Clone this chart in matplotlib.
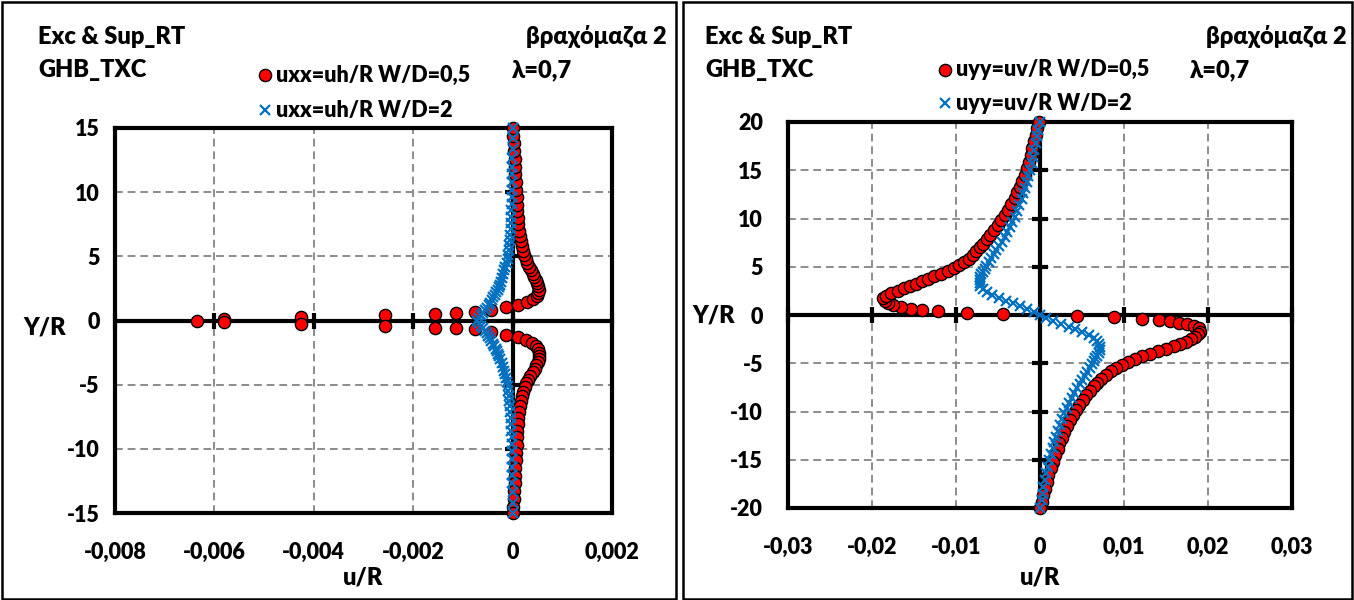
import matplotlib
matplotlib.use("Agg")
import matplotlib.pyplot as plt
from matplotlib.lines import Line2D
from matplotlib.patches import Rectangle
from matplotlib.ticker import FuncFormatter

# ---------------- data: horizontal displacement uxx (left chart) ----------------
# W/D = 0.5, upper half (Y/R > 0)
UXX_05_Y_UP = [0.00, 0.10, 0.27, 0.40, 0.50, 0.56, 0.64, 0.82, 1.02, 1.20, 1.42, 1.66,
               1.90, 2.15, 2.40, 2.65, 2.90, 3.15, 3.40, 3.65, 3.90, 4.20, 4.50, 4.80,
               5.10, 5.45, 5.80, 6.20, 6.60, 7.00, 7.50, 8.00, 8.50, 9.00, 9.60, 10.20,
               10.80, 11.40, 12.00, 12.60, 13.20, 13.80, 14.40, 15.00]
UXX_05_X_UP = [-0.00636, -0.00580, -0.00425, -0.00256, -0.00157, -0.00113, -0.00076,
               -0.00043, -0.00013, 0.00010, 0.00028, 0.00042, 0.00049, 0.00052, 0.00053,
               0.00052, 0.00050, 0.00047, 0.00044, 0.00041, 0.00038, 0.00033, 0.00029,
               0.00026, 0.00023, 0.00020, 0.00018, 0.00016, 0.00015, 0.00013, 0.00011,
               0.00010, 0.00009, 0.00009, 0.00008, 0.00007, 0.00006, 0.00005, 0.00005,
               0.00004, 0.00003, 0.00002, 0.00001, 0.00000]
# W/D = 0.5, lower half (Y/R < 0)
UXX_05_Y_DN = [-0.15, -0.30, -0.45, -0.55, -0.60, -0.68, -0.88, -1.10, -1.28, -1.50,
               -1.75, -2.00, -2.25, -2.50, -2.75, -3.00, -3.25, -3.50, -3.75, -4.00,
               -4.30, -4.60, -4.90, -5.20, -5.55, -5.90, -6.30, -6.70, -7.10, -7.60,
               -8.10, -8.60, -9.10, -9.70, -10.30, -10.90, -11.50, -12.10, -12.70,
               -13.30, -13.90, -14.50, -15.00]
UXX_05_X_DN = [-0.00580, -0.00425, -0.00256, -0.00157, -0.00113, -0.00076, -0.00043,
               -0.00013, 0.00010, 0.00027, 0.00040, 0.00047, 0.00051, 0.00053, 0.00054,
               0.00053, 0.00051, 0.00048, 0.00045, 0.00041, 0.00036, 0.00031, 0.00027,
               0.00024, 0.00021, 0.00018, 0.00016, 0.00015, 0.00013, 0.00011, 0.00010,
               0.00009, 0.00009, 0.00008, 0.00007, 0.00006, 0.00005, 0.00005, 0.00004,
               0.00003, 0.00002, 0.00001, 0.00000]

# W/D = 2, upper half
UXX_2_Y_UP = [0.0, 0.2, 0.4, 0.6, 0.8, 1.0, 1.2, 1.4, 1.6, 1.8, 2.0, 2.2, 2.4, 2.6, 2.8,
              3.0, 3.3, 3.6, 3.9, 4.2, 4.5, 4.8, 5.1, 5.5, 5.9, 6.3, 6.7, 7.1, 7.6, 8.1,
              8.6, 9.1, 9.6, 10.2, 10.8, 11.4, 12.0, 12.7, 13.4, 14.2, 15.0]
UXX_2_X_UP = [-0.00072, -0.00067, -0.00063, -0.00059, -0.00055, -0.00051, -0.00048,
              -0.00045, -0.00042, -0.00039, -0.00036, -0.00033, -0.00030, -0.00028,
              -0.00026, -0.00024, -0.00021, -0.00019, -0.00017, -0.00015, -0.00012,
              -0.00010, -0.00009, -0.00008, -0.00007, -0.00006, -0.00005, -0.00004,
              -0.00004, -0.00003, -0.00003, -0.00002, -0.00002, -0.00002, -0.00001,
              -0.00001, -0.00001, -0.00001, 0.00000, 0.00000, 0.00000]
# W/D = 2, lower half
UXX_2_Y_DN = [-0.2, -0.4, -0.6, -0.8, -1.0, -1.2, -1.4, -1.6, -1.8, -2.0, -2.2, -2.4,
              -2.6, -2.8, -3.0, -3.3, -3.6, -3.9, -4.2, -4.5, -4.8, -5.1, -5.5, -5.9,
              -6.3, -6.7, -7.1, -7.6, -8.1, -8.6, -9.1, -9.6, -10.2, -10.8, -11.4,
              -12.0, -12.7, -13.4, -14.2, -15.0]
UXX_2_X_DN = [-0.00068, -0.00064, -0.00060, -0.00056, -0.00052, -0.00049, -0.00046,
              -0.00043, -0.00040, -0.00037, -0.00034, -0.00031, -0.00029, -0.00027,
              -0.00025, -0.00022, -0.00020, -0.00018, -0.00016, -0.00013, -0.00011,
              -0.00010, -0.00009, -0.00008, -0.00007, -0.00006, -0.00005, -0.00004,
              -0.00003, -0.00003, -0.00002, -0.00002, -0.00002, -0.00001, -0.00001,
              -0.00001, -0.00001, 0.00000, 0.00000, 0.00000]

# ---------------- data: vertical displacement uyy (right chart) ----------------
# W/D = 0.5, upper half
UYY_05_Y_UP = [0.07, 0.24, 0.41, 0.55, 0.66, 0.80, 1.00, 1.21, 1.45, 1.73, 2.00, 2.25,
               2.50, 2.75, 3.00, 3.25, 3.50, 3.75, 4.00, 4.30, 4.60, 4.90, 5.20, 5.50,
               5.85, 6.20, 6.60, 7.00, 7.40, 7.85, 8.30, 8.80, 9.30, 9.80, 10.35, 10.90,
               11.50, 12.10, 12.70, 13.30, 13.90, 14.50, 15.20, 15.90, 16.60, 17.30,
               18.00, 18.70, 19.40, 20.00]
UYY_05_X_UP = [-0.0044, -0.0087, -0.0121, -0.0141, -0.0154, -0.0165, -0.0175, -0.0181,
               -0.0185, -0.0187, -0.0183, -0.0177, -0.0169, -0.0162, -0.0155, -0.0148,
               -0.0141, -0.0133, -0.0126, -0.0118, -0.0109, -0.0102, -0.0096, -0.0090,
               -0.0085, -0.0080, -0.0076, -0.0072, -0.0068, -0.0063, -0.0059, -0.0055,
               -0.0050, -0.0046, -0.0042, -0.0038, -0.0034, -0.0030, -0.0027, -0.0024,
               -0.0021, -0.0018, -0.0015, -0.0013, -0.0011, -0.0009, -0.0007, -0.0005,
               -0.0003, -0.0001]
# W/D = 0.5, lower half
UYY_05_Y_DN = [-0.10, -0.24, -0.41, -0.52, -0.66, -0.80, -0.93, -1.14, -1.38, -1.73,
               -2.00, -2.25, -2.50, -2.75, -3.00, -3.25, -3.50, -3.75, -4.00, -4.30,
               -4.60, -4.90, -5.20, -5.50, -5.85, -6.20, -6.60, -7.00, -7.40, -7.85,
               -8.30, -8.80, -9.30, -9.80, -10.35, -10.90, -11.50, -12.10, -12.70,
               -13.30, -13.90, -14.50, -15.20, -15.90, -16.60, -17.30, -18.00, -18.70,
               -19.40, -20.00]
UYY_05_X_DN = [0.0044, 0.0088, 0.0121, 0.0142, 0.0155, 0.0165, 0.0175, 0.0183, 0.0189,
               0.0190, 0.0188, 0.0185, 0.0180, 0.0174, 0.0167, 0.0159, 0.0150, 0.0141,
               0.0131, 0.0122, 0.0113, 0.0105, 0.0098, 0.0091, 0.0085, 0.0079, 0.0073,
               0.0068, 0.0064, 0.0059, 0.0055, 0.0051, 0.0047, 0.0043, 0.0039, 0.0036,
               0.0032, 0.0029, 0.0026, 0.0023, 0.0021, 0.0018, 0.0015, 0.0013, 0.0010,
               0.0008, 0.0006, 0.0004, 0.0002, 0.0000]

# W/D = 2, upper half
UYY_2_Y_UP = [0.0, 0.3, 0.6, 0.9, 1.2, 1.5, 1.8, 2.1, 2.4, 2.7, 3.0, 3.3, 3.6, 3.9, 4.2,
              4.5, 4.8, 5.1, 5.5, 5.9, 6.3, 6.7, 7.1, 7.6, 8.1, 8.6, 9.1, 9.6, 10.2, 10.8,
              11.4, 12.0, 12.6, 13.2, 13.8, 14.4, 15.0, 15.7, 16.4, 17.1, 17.8, 18.5,
              19.2, 20.0]
UYY_2_X_UP = [0.0000, -0.0007, -0.0015, -0.0024, -0.0032, -0.0041, -0.0049, -0.0057,
              -0.0063, -0.0068, -0.0071, -0.0072, -0.0072, -0.0071, -0.0070, -0.0068,
              -0.0066, -0.0064, -0.0061, -0.0058, -0.0055, -0.0052, -0.0049, -0.0045,
              -0.0042, -0.0039, -0.0036, -0.0033, -0.0030, -0.0027, -0.0025, -0.0022,
              -0.0020, -0.0018, -0.0016, -0.0014, -0.0012, -0.0010, -0.0008, -0.0007,
              -0.0005, -0.0004, -0.0002, 0.0000]
# W/D = 2, lower half
UYY_2_Y_DN = [-0.3, -0.6, -0.9, -1.2, -1.5, -1.8, -2.1, -2.4, -2.7, -3.0, -3.3, -3.6,
              -3.9, -4.2, -4.5, -4.8, -5.1, -5.5, -5.9, -6.3, -6.7, -7.1, -7.6, -8.1,
              -8.6, -9.1, -9.6, -10.2, -10.8, -11.4, -12.0, -12.6, -13.2, -13.8, -14.4,
              -15.0, -15.7, -16.4, -17.1, -17.8, -18.5, -19.2, -20.0]
UYY_2_X_DN = [0.0007, 0.0016, 0.0025, 0.0034, 0.0042, 0.0050, 0.0058, 0.0064, 0.0068,
              0.0070, 0.0071, 0.0071, 0.0070, 0.0068, 0.0066, 0.0064, 0.0062, 0.0059,
              0.0056, 0.0053, 0.0050, 0.0048, 0.0044, 0.0041, 0.0038, 0.0035, 0.0032,
              0.0029, 0.0026, 0.0024, 0.0021, 0.0019, 0.0017, 0.0015, 0.0013, 0.0011,
              0.0009, 0.0007, 0.0006, 0.0004, 0.0003, 0.0002, 0.0000]

# ---------------- axis ticks and labels ----------------
LEFT_XTICKS = [-0.008, -0.006, -0.004, -0.002, 0.0, 0.002]
LEFT_YTICKS = [-15, -10, -5, 0, 5, 10, 15]
RIGHT_XTICKS = [-0.03, -0.02, -0.01, 0.0, 0.01, 0.02, 0.03]
RIGHT_YTICKS = [-20, -15, -10, -5, 0, 5, 10, 15, 20]

TITLE_1 = "Exc & Sup_RT"
TITLE_2 = "GHB_TXC"
ROCK_LABEL = "βραχόμαζα 2"
LAMBDA_LABEL = "λ=0,7"
LEFT_LEGEND = ["uxx=uh/R W/D=0,5", "uxx=uh/R W/D=2"]
RIGHT_LEGEND = ["uyy=uv/R W/D=0,5", "uyy=uv/R W/D=2"]
XLABEL = "u/R"
YLABEL = "Y/R"

# ---------------- styling ----------------
W, H = 1354, 600
FONT = ["Lato", "Noto Sans", "DejaVu Sans"]
WEIGHT = "heavy"
plt.rcParams["font.family"] = FONT
plt.rcParams["font.weight"] = WEIGHT

RED = "#FF0000"
BLUE = "#0070C0"
GRID = "#8C8C8C"
TITLE_SIZE = 17
LEGEND_SIZE = 15.5
TICK_SIZE = 15.5


def fx(px):
    return px / W


def fy(py):
    return 1 - py / H


def decimal_comma(decimals):
    def fmt(v, _pos=None):
        if abs(v) < 1e-12:
            return "0"
        return f"{v:.{decimals}f}".replace(".", ",")
    return fmt


def int_fmt(v, _pos=None):
    return f"{int(round(v))}"


fig = plt.figure(figsize=(W / 100, H / 100), dpi=100)

# outer frames of the two chart areas
for x0, x1 in [(2, 676), (683, 1352)]:
    fig.add_artist(Rectangle((fx(x0), fy(599)), fx(x1) - fx(x0), fy(2) - fy(599),
                             transform=fig.transFigure, fill=False,
                             edgecolor="black", linewidth=1.8))


def make_panel(box, xlim, ylim, xticks, yticks, xfmt, ypad):
    left, top, right, bottom = box
    ax = fig.add_axes([fx(left), fy(bottom), fx(right) - fx(left), fy(top) - fy(bottom)])
    ax.set_xlim(*xlim)
    ax.set_ylim(*ylim)
    ax.set_xticks(xticks)
    ax.set_yticks(yticks)
    ax.xaxis.set_major_formatter(FuncFormatter(xfmt))
    ax.yaxis.set_major_formatter(FuncFormatter(int_fmt))
    ax.tick_params(axis="both", length=0, labelsize=TICK_SIZE)
    ax.tick_params(axis="x", pad=21)
    ax.tick_params(axis="y", pad=ypad)
    for lab in ax.get_xticklabels() + ax.get_yticklabels():
        lab.set_fontweight(WEIGHT)
    for sp in ax.spines.values():
        sp.set_linewidth(3)
        sp.set_color("black")
    ax.grid(True, linestyle=(0, (4, 2.5)), color=GRID, linewidth=1.4)
    ax.set_axisbelow(True)
    # zero axes with crossing tick marks
    ax.axhline(0, color="black", lw=3, zorder=2)
    ax.axvline(0, color="black", lw=3, zorder=2)
    ax.plot(xticks, [0] * len(xticks), ls="none", marker="|", ms=11,
            mew=3, color="black", zorder=2, clip_on=False)
    ax.plot([0] * len(yticks), yticks, ls="none", marker="_", ms=11,
            mew=3, color="black", zorder=2, clip_on=False)
    return ax


RED_STYLE = dict(ls="none", marker="o", ms=8.8, mfc=RED, mec="black", mew=1.0)
BLUE_STYLE = dict(ls="none", marker="x", ms=7.2, mec=BLUE, mew=1.6)


def draw_series(ax, red_parts, blue_parts):
    for xs, ys in red_parts:
        ax.plot(xs, ys, zorder=3, clip_on=False, **RED_STYLE)
    for xs, ys in blue_parts:
        ax.plot(xs, ys, zorder=4, clip_on=False, **BLUE_STYLE)


# left chart
axL = make_panel((115, 128, 612, 513), (-0.008, 0.002), (-15, 15),
                 LEFT_XTICKS, LEFT_YTICKS, decimal_comma(3), 11)
draw_series(axL,
            [(UXX_05_X_UP, UXX_05_Y_UP), (UXX_05_X_DN, UXX_05_Y_DN)],
            [(UXX_2_X_UP, UXX_2_Y_UP), (UXX_2_X_DN, UXX_2_Y_DN)])

# right chart
axR = make_panel((788, 122, 1292, 508), (-0.03, 0.03), (-20, 20),
                 RIGHT_XTICKS, RIGHT_YTICKS, decimal_comma(2), 18)
draw_series(axR,
            [(UYY_05_X_UP, UYY_05_Y_UP), (UYY_05_X_DN, UYY_05_Y_DN)],
            [(UYY_2_X_UP, UYY_2_Y_UP), (UYY_2_X_DN, UYY_2_Y_DN)])


def txt(x, y, s, size, ha="left"):
    fig.text(fx(x), fy(y), s, fontsize=size, fontweight=WEIGHT, ha=ha, va="center",
             family=FONT)


def legend_marker(x, y, style):
    fig.add_artist(Line2D([fx(x)], [fy(y)], transform=fig.transFigure, **style))


# left chart annotations
txt(38, 37, TITLE_1, TITLE_SIZE)
txt(38, 70, TITLE_2, TITLE_SIZE)
txt(667, 37, ROCK_LABEL, TITLE_SIZE, ha="right")
txt(512, 70, LAMBDA_LABEL, TITLE_SIZE)
legend_marker(265, 75, RED_STYLE)
txt(276, 75, LEFT_LEGEND[0], LEGEND_SIZE)
legend_marker(265, 110, BLUE_STYLE)
txt(276, 110, LEFT_LEGEND[1], LEGEND_SIZE)
txt(45, 328, YLABEL, TITLE_SIZE, ha="center")
txt(363, 578, XLABEL, TITLE_SIZE, ha="center")

# right chart annotations
txt(705, 37, TITLE_1, TITLE_SIZE)
txt(705, 70, TITLE_2, TITLE_SIZE)
txt(1347, 37, ROCK_LABEL, TITLE_SIZE, ha="right")
txt(1190, 70, LAMBDA_LABEL, TITLE_SIZE)
legend_marker(945, 70, RED_STYLE)
txt(956, 70, RIGHT_LEGEND[0], LEGEND_SIZE)
legend_marker(945, 103, BLUE_STYLE)
txt(956, 103, RIGHT_LEGEND[1], LEGEND_SIZE)
txt(714, 315, YLABEL, TITLE_SIZE, ha="center")
txt(1040, 578, XLABEL, TITLE_SIZE, ha="center")

fig.savefig("out.png", dpi=100)
